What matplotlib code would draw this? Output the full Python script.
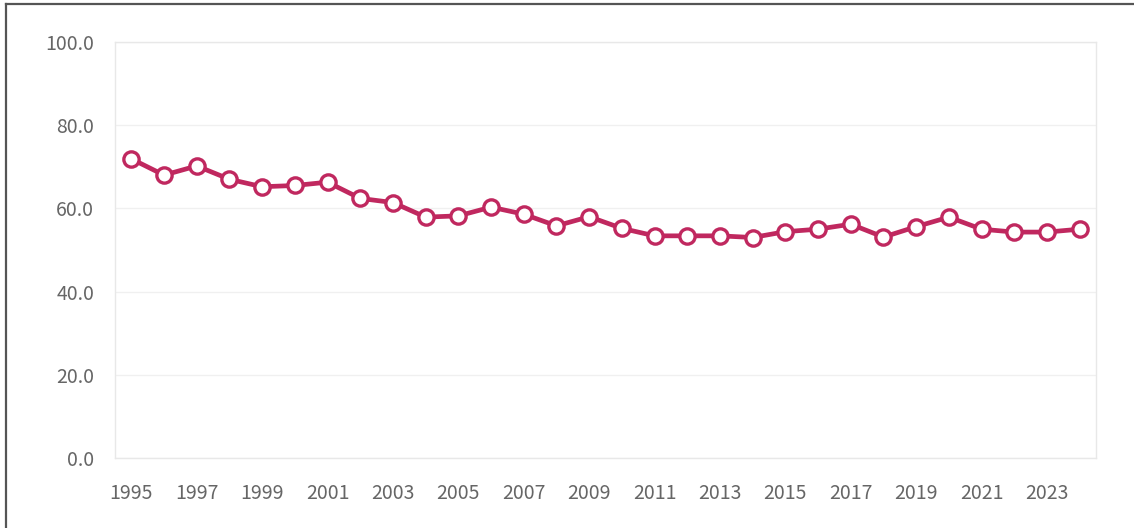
import matplotlib
matplotlib.use("Agg")
import matplotlib.pyplot as plt
from matplotlib.lines import Line2D

plt.rcParams['font.family'] = ['Noto Sans CJK KR', 'DejaVu Sans']

# 연도별 값
years = list(range(1995, 2025))
values = [71.9, 68.0, 70.2, 67.0, 65.2, 65.5, 66.3, 62.4, 61.4, 57.9,
          58.2, 60.3, 58.6, 55.8, 58.0, 55.2, 53.4, 53.4, 53.4, 53.0,
          54.4, 55.0, 56.2, 53.1, 55.6, 57.9, 55.0, 54.3, 54.3, 55.0]
y_ticks = [0, 20, 40, 60, 80, 100]

line_color = '#C0285F'
text_color = '#666666'
grid_color = '#f0f0f0'

fig = plt.figure(figsize=(11.34, 5.28), dpi=100)
ax = fig.add_axes([0.1014, 0.1326, 0.8651, 0.7879])

x = list(range(len(years)))
ax.plot(x, values, color=line_color, linewidth=3.4, marker='o',
        markersize=11, markerfacecolor='white', markeredgecolor=line_color,
        markeredgewidth=2.4, zorder=3)

ax.set_xlim(-0.5, len(years) - 0.5)
ax.set_ylim(0, 100)
ax.set_yticks(y_ticks)
ax.set_yticklabels([f'{v:.1f}' for v in y_ticks])
ax.set_xticks(x[::2])
ax.set_xticklabels([str(y) for y in years[::2]])

ax.grid(axis='y', color=grid_color, linewidth=1.0)
ax.set_axisbelow(True)
for side in ax.spines.values():
    side.set_color('#e8e8e8')
    side.set_linewidth(1.0)

ax.tick_params(axis='both', length=0, labelsize=14, labelcolor=text_color)
ax.tick_params(axis='y', pad=15)
ax.tick_params(axis='x', pad=18)

# 바깥 테두리 (위, 왼쪽)
fig.add_artist(Line2D([0.0053, 1.0], [0.9915, 0.9915], transform=fig.transFigure,
                      color='#555555', linewidth=1.6))
fig.add_artist(Line2D([0.0053, 0.0053], [0.0, 0.9915], transform=fig.transFigure,
                      color='#555555', linewidth=1.6))

fig.savefig('out.png', dpi=100)
